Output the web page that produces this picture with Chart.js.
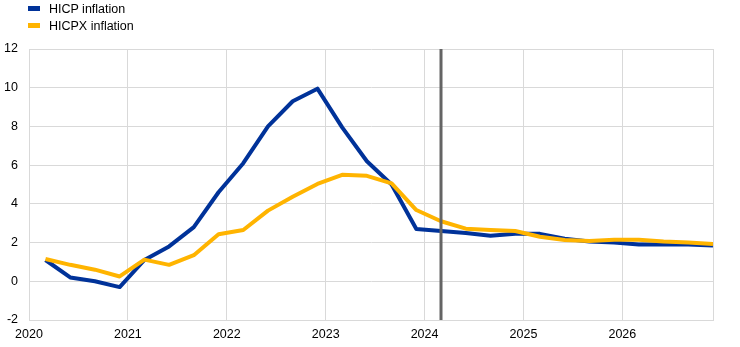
<!DOCTYPE html>
<html>
<head>
<meta charset="utf-8">
<script src="https://cdn.jsdelivr.net/npm/chart.js@4/dist/chart.umd.min.js"></script>
<style>
  html, body { margin: 0; padding: 0; background: #fff; }
  #wrap { position: relative; width: 740px; height: 347px; }
  #legend { position: absolute; left: 28px; top: 0px; font: 12.5px "Liberation Sans", Arial, sans-serif; color: #000; }
  .item { display: flex; align-items: center; height: 17px; }
  .swatch { width: 12px; height: 5px; margin-right: 9px; }
</style>
</head>
<body>
<div id="wrap">
  <canvas id="c" width="740" height="347"></canvas>
  <div id="legend"></div>
</div>
<script>
// Quarterly observations and projections, 2020Q1 - 2026Q4 (annual % change)
const quarters = [
  '2020Q1','2020Q2','2020Q3','2020Q4',
  '2021Q1','2021Q2','2021Q3','2021Q4',
  '2022Q1','2022Q2','2022Q3','2022Q4',
  '2023Q1','2023Q2','2023Q3','2023Q4',
  '2024Q1','2024Q2','2024Q3','2024Q4',
  '2025Q1','2025Q2','2025Q3','2025Q4',
  '2026Q1','2026Q2','2026Q3','2026Q4'
];
const hicp = [
  1.1, 0.2, 0.0, -0.3,
  1.1, 1.8, 2.8, 4.6,
  6.1, 8.0, 9.3, 9.95,
  7.95, 6.2, 5.0, 2.7,
  2.6, 2.5, 2.35, 2.45,
  2.45, 2.2, 2.05, 2.0,
  1.9, 1.9, 1.9, 1.85
];
const hicpx = [
  1.15, 0.85, 0.6, 0.25,
  1.12, 0.85, 1.35, 2.43,
  2.65, 3.65, 4.37, 5.03,
  5.5, 5.45, 5.06, 3.68,
  3.1, 2.72, 2.65, 2.6,
  2.3, 2.13, 2.08, 2.15,
  2.15, 2.05, 2.0, 1.93
];
const yearTicks = [2020, 2021, 2022, 2023, 2024, 2025, 2026];
const cutoffQuarter = '2024Q1';

// Each quarter is placed at the start of its last month
function quarterPos(q) {
  const y = parseInt(q.slice(0, 4), 10);
  const n = parseInt(q.slice(5), 10);
  return y + (3 * n - 1) / 12;
}

const toPoints = vals => quarters.map((q, i) => ({ x: quarterPos(q), y: vals[i] }));

const cutoffLine = {
  id: 'cutoffLine',
  afterDatasetsDraw(chart) {
    const { ctx, chartArea, scales } = chart;
    const x = Math.round(scales.x.getPixelForValue(quarterPos(cutoffQuarter)));
    ctx.save();
    ctx.strokeStyle = '#646464';
    ctx.lineWidth = 3;
    ctx.beginPath();
    ctx.moveTo(x, chartArea.top);
    ctx.lineTo(x, chartArea.bottom);
    ctx.stroke();
    ctx.restore();
  }
};

const font = { family: '"Liberation Sans", Arial, sans-serif', size: 12.5 };
const gridColor = '#d9d9d9';

const chart = new Chart(document.getElementById('c'), {
  type: 'line',
  data: {
    datasets: [
      { label: 'HICP inflation', data: toPoints(hicp), borderColor: '#003299', backgroundColor: '#003299', order: 1 },
      { label: 'HICPX inflation', data: toPoints(hicpx), borderColor: '#ffb400', backgroundColor: '#ffb400', order: 0 }
    ]
  },
  options: {
    responsive: false,
    animation: false,
    layout: { padding: { top: 49, right: 27, left: 0, bottom: 0 } },
    elements: {
      line: { borderWidth: 4, tension: 0, borderJoinStyle: 'round', borderCapStyle: 'butt' },
      point: { radius: 0 }
    },
    plugins: { legend: { display: false }, tooltip: { enabled: false } },
    scales: {
      x: {
        type: 'linear',
        min: yearTicks[0],
        max: quarterPos(quarters[quarters.length - 1]),
        afterBuildTicks(scale) {
          scale.ticks = yearTicks.map(v => ({ value: v })).concat([{ value: scale.max }]);
        },
        ticks: {
          font, color: '#000', padding: 7, maxRotation: 0, autoSkip: false,
          callback: v => (Number.isInteger(v) ? String(v) : '')
        },
        grid: { color: gridColor, drawTicks: false, lineWidth: 1 },
        border: { color: gridColor },
        afterFit(scale) { scale.height = 27; }
      },
      y: {
        min: -2, max: 12,
        ticks: { stepSize: 2, font, color: '#000', padding: 11 },
        grid: { color: gridColor, drawTicks: false, lineWidth: 1 },
        border: { color: gridColor },
        afterFit(scale) { scale.width = 29; }
      }
    }
  },
  plugins: [cutoffLine]
});

// Legend built from the datasets
const legend = document.getElementById('legend');
chart.data.datasets.forEach(ds => {
  const row = document.createElement('div');
  row.className = 'item';
  const sw = document.createElement('span');
  sw.className = 'swatch';
  sw.style.background = ds.borderColor;
  const label = document.createElement('span');
  label.textContent = ds.label;
  row.appendChild(sw);
  row.appendChild(label);
  legend.appendChild(row);
});
</script>
</body>
</html>
